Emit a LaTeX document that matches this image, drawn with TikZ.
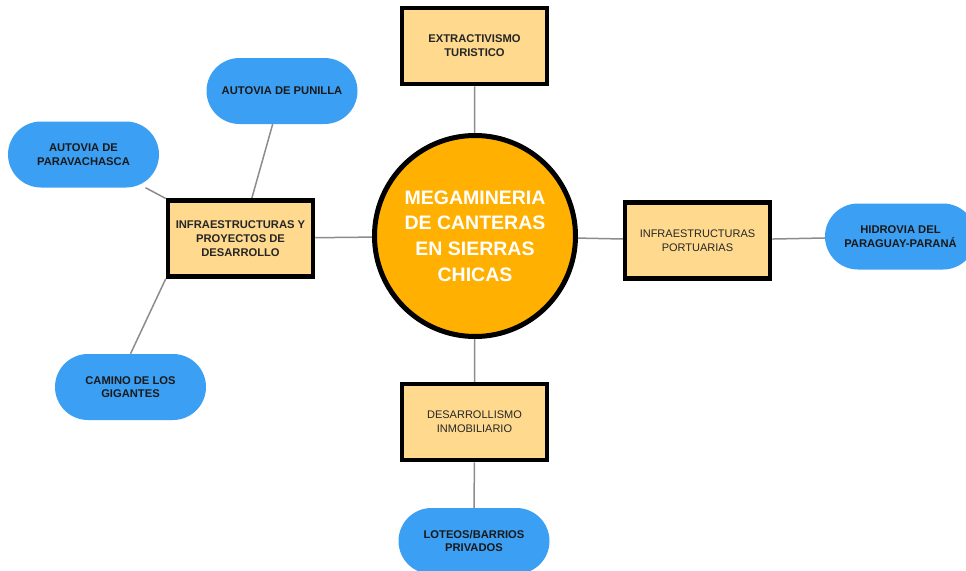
\documentclass[tikz,border=0pt]{standalone}
\usepackage{fontspec}
\setmainfont{Liberation Sans}
\usetikzlibrary{backgrounds}
\definecolor{hubfill}{HTML}{FFB000}
\definecolor{topicfill}{HTML}{FED98E}
\definecolor{leaffill}{HTML}{3BA0F4}
\definecolor{linkgray}{HTML}{8C8C8C}

\begin{document}
\begin{tikzpicture}[x=1pt, y=-1pt,
  hubnode/.style={circle, draw=black, line width=5pt, fill=hubfill, minimum size=201pt, inner sep=0pt, text=white, align=center, font=\fontsize{19.5}{25.7}\selectfont\bfseries},
  topic/.style={rectangle, draw=black, line width=4.5pt, fill=topicfill, minimum width=145pt, minimum height=76pt, inner sep=0pt, align=center, text=black!85},
  topicb/.style={topic, font=\fontsize{11.2}{13.9}\selectfont\bfseries},
  topicr/.style={topic, font=\fontsize{11}{13.7}\selectfont},
  leaf/.style={rectangle, rounded corners=33pt, fill=leaffill, minimum width=151pt, minimum height=66pt, inner sep=0pt, align=center, text=black!90, font=\fontsize{11.2}{13.7}\selectfont\bfseries},
  link/.style={draw=linkgray, line width=1.5pt}]
  \useasboundingbox (0,0) rectangle (966,570);
  \clip (0,0) rectangle (966,570);

  \node[hubnode] (hub) at (475,236) {MEGAMINERIA\\DE CANTERAS\\EN SIERRAS\\CHICAS};
  \node[topicb] (tur)   at (474.5,46)    {EXTRACTIVISMO\\TURISTICO};
  \node[topicb] (infra) at (240.5,238.5) {INFRAESTRUCTURAS Y\\PROYECTOS DE\\DESARROLLO};
  \node[topicr] (port)  at (697.5,240.5) {INFRAESTRUCTURAS\\PORTUARIAS};
  \node[topicr] (inmo)  at (474.5,422)   {DESARROLLISMO\\INMOBILIARIO};

  \node[leaf] (pun)  at (282,91)    {AUTOVIA DE PUNILLA};
  \node[leaf] (para) at (83.5,154.5) {AUTOVIA DE\\PARAVACHASCA};
  \node[leaf] (cam)  at (130.5,387) {CAMINO DE LOS\\GIGANTES};
  \node[leaf] (hid)  at (900.5,236.5) {HIDROVIA DEL\\PARAGUAY-PARANÁ};
  \node[leaf] (lot)  at (474,541)   {LOTEOS/BARRIOS\\PRIVADOS};

  \begin{scope}[on background layer]
    \draw[link] (hub) -- (tur);
    \draw[link] (hub) -- (infra);
    \draw[link] (hub) -- (port);
    \draw[link] (hub) -- (inmo);
    \draw[link] (infra) -- (pun);
    \draw[link] (infra) -- (para);
    \draw[link] (infra.south west) -- (cam.north);
    \draw[link] (port) -- (hid);
    \draw[link] (inmo) -- (lot);
  \end{scope}
\end{tikzpicture}
\end{document}
